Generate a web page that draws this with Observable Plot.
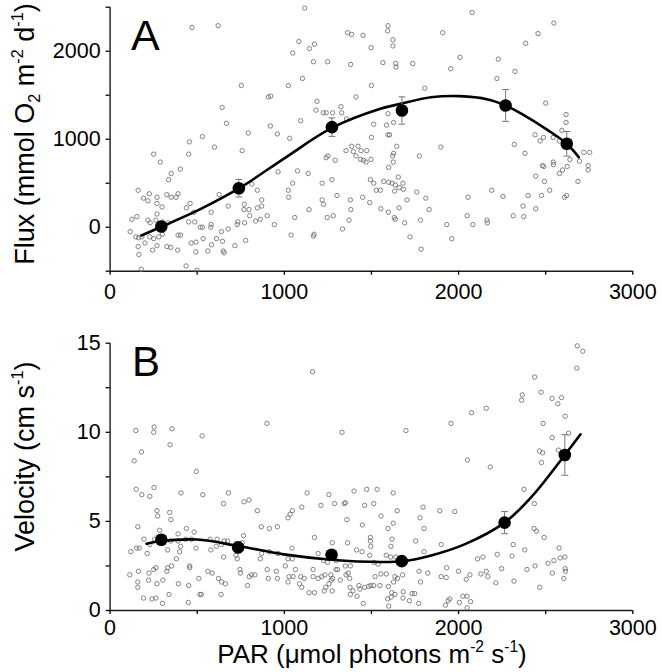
<!DOCTYPE html>
<html>
<head>
<meta charset="utf-8">
<script src="https://cdn.jsdelivr.net/npm/d3@7"></script>
<script src="https://cdn.jsdelivr.net/npm/@observablehq/plot@0.6"></script>
<style>
  html, body { margin: 0; padding: 0; background: white; }
  #chart { width: 662px; }
  #chart svg { display: block; }
  #chart svg g[aria-label$="tick label"] { font-size: 21.5px; }
</style>
</head>
<body>
<div id="chart"></div>
<script>
// ---------- Data ----------
const parDomain = [0, 3000];
const parMajorTicks = [0, 1000, 2000, 3000];
const parMinorTicks = [500, 1500, 2500];

// Panel A: oxygen flux
const fluxDomain = [-500, 2500];
const fluxMajorTicks = [0, 1000, 2000];
const fluxMinorTicks = [-500, 500, 1500, 2500];
const fluxScatter = [
  [1117,2490],[470,2270],[620,2290],[1363,2210],[1386,2190],[1452,2180],[1498,2040],[1083,2110],[1048,1980],[1144,2030],
  [1173,2080],[1167,1880],[1248,1880],[1380,1850],[1104,1690],[753,1610],[1023,1610],[1500,1610],[1411,1480],[908,1480],
  [922,1490],[643,1360],[1187,1430],[668,1180],[920,1150],[1094,1210],[1325,1370],[1181,1330],[1223,1300],[1240,1300],
  [1277,1300],[1329,1300],[1357,1230],[1513,1170],[530,1030],[1031,1010],[793,1070],[960,1060],[1500,1020],[599,910],
  [455,970],[758,870],[250,830],[288,740],[451,830],[1386,920],[1423,920],[1440,870],[1396,860],[1473,870],
  [1411,810],[1438,770],[1453,760],[1469,740],[1498,770],[1292,760],[1250,810],[1240,790],[1354,870],[351,610],
  [336,540],[403,660],[964,630],[1075,640],[1137,610],[1048,500],[1217,500],[1273,540],[1494,540],[1513,500],
  [1528,420],[1551,420],[161,420],[225,380],[192,330],[217,300],[269,340],[269,270],[298,230],[326,370],
  [351,340],[378,340],[390,380],[459,270],[626,370],[678,240],[814,490],[845,420],[870,240],[870,310],
  [1023,420],[1025,340],[1142,200],[1217,310],[1225,260],[1302,360],[1379,310],[1382,200],[1450,340],[1490,280],
  [125,90],[154,120],[217,80],[230,50],[269,150],[263,80],[301,60],[334,50],[438,220],[480,170],
  [580,170],[770,260],[768,200],[797,200],[845,220],[902,130],[862,90],[835,70],[801,130],[772,50],
  [733,60],[730,30],[678,-20],[639,-50],[580,30],[578,0],[518,0],[530,0],[451,60],[486,60],
  [943,30],[1060,110],[1246,110],[1281,130],[1371,80],[1334,-20],[1171,-80],[1167,-100],[115,-50],[148,-110],
  [163,-120],[182,-110],[200,-180],[228,-110],[250,-130],[269,-210],[161,-220],[165,-310],[244,-260],[280,-110],
  [300,-80],[326,-220],[348,-230],[388,-260],[390,-90],[405,-90],[465,-180],[492,-170],[492,-280],[534,-130],
  [561,-270],[582,-200],[611,-130],[645,-160],[649,-270],[655,-290],[716,-210],[778,-150],[1039,-90],[179,-480],
  [436,-440],[499,-490],
  [2078,2440],[1595,2290],[1593,2230],[1623,2130],[1623,2060],[1909,2210],[2547,2320],[2456,2200],[2385,2090],[1566,1870],
  [1639,1860],[1641,1820],[1737,1860],[2009,1930],[1955,1800],[2228,1910],[2324,1770],[2220,1690],[1806,1580],[2500,1410],
  [1595,1290],[1627,1190],[1587,1160],[1595,1050],[1604,1050],[1645,920],[1627,840],[1622,810],[1625,740],[1599,680],
  [1898,910],[1775,810],[2320,940],[2381,840],[2439,1050],[2468,980],[2487,1020],[2543,1020],[2593,1100],[2617,1280],
  [2617,1190],[2579,980],[1654,570],[1570,520],[1599,510],[1618,500],[1637,480],[1660,450],[1683,430],[1681,500],
  [1633,410],[1704,310],[1760,400],[1812,330],[1831,200],[1658,220],[1554,210],[1597,170],[1631,110],[1637,90],
  [1691,50],[1781,80],[1721,-110],[1785,-250],[1932,30],[1961,-130],[2055,340],[2049,130],[2082,30],[2163,80],
  [2165,50],[2190,420],[2255,350],[2314,130],[2374,120],[2370,240],[2399,360],[2443,210],[2443,580],[2476,360],
  [2493,520],[2523,420],[2481,700],[2489,690],[2543,740],[2545,710],[2579,610],[2596,650],[2623,690],[2608,340],
  [2620,360],[2685,520],[2639,770],[2694,750],[2719,850],[2752,850],[2744,700],[2744,650]
];
const fluxMeanPar = [294, 739, 1273, 1675, 2270, 2621];
const fluxMean = [8, 443, 1137, 1326, 1383, 948];
const fluxErr = [50, 100, 105, 155, 180, 140];
const fluxFitPar = [180, 294, 518, 739, 998, 1273, 1551, 1675, 1842, 2006, 2168, 2270, 2360, 2514, 2621, 2690];
const fluxFit = [-95, 5, 205, 440, 780, 1128, 1345, 1405, 1476, 1489, 1452, 1383, 1290, 1100, 948, 795];

// Panel B: velocity
const velDomain = [0, 15];
const velMajorTicks = [0, 5, 10, 15];
const velMinorTicks = [2.5, 7.5, 12.5];
const velScatter = [
  [1162,13.4],[900,10.5],[1331,10.0],[148,10.1],[250,10.0],[253,10.3],[355,10.2],[528,9.8],[138,8.4],[180,8.9],
  [344,9.3],[495,7.8],[150,6.8],[182,6.5],[228,6.4],[252,6.9],[407,6.6],[532,6.5],[651,6.0],[680,6.6],
  [768,6.1],[797,6.2],[845,5.6],[868,4.7],[914,4.6],[960,4.7],[1021,5.2],[1033,5.4],[1046,5.6],[1100,5.8],
  [1131,6.6],[1210,5.9],[1256,6.5],[1288,6.0],[1344,6.0],[1350,6.05],[1359,5.1],[1400,6.7],[1461,5.9],[1448,4.8],
  [1473,6.8],[1532,6.8],[1513,6.0],[1555,5.3],[269,5.6],[273,5.3],[342,5.5],[349,5.1],[159,4.7],[284,4.5],
  [438,4.6],[482,4.4],[390,4.3],[194,4.0],[493,3.5],[434,4.0],[574,4.0],[614,4.0],[655,3.9],[674,3.9],
  [639,3.7],[609,3.6],[578,3.4],[467,4.0],[390,3.9],[766,4.2],[758,3.8],[722,3.1],[730,2.9],[651,3.0],
  [405,3.6],[380,2.9],[399,3.3],[330,3.4],[348,3.9],[255,4.0],[228,3.7],[213,3.2],[167,3.5],[152,3.5],
  [119,3.3],[870,3.2],[862,2.9],[914,3.3],[964,3.2],[1021,2.9],[1046,2.9],[1044,3.5],[1173,4.1],[1194,3.2],
  [1225,2.8],[1248,2.7],[1275,3.8],[1298,2.8],[1306,2.3],[1363,3.8],[1350,2.5],[1379,2.5],[1415,3.4],[1446,3.3],
  [1494,4.1],[1494,3.9],[1496,3.6],[1490,3.1],[1515,2.7],[1538,2.6],[113,2.0],[163,2.2],[159,1.6],[159,1.3],
  [223,2.1],[250,2.3],[263,2.4],[221,1.7],[269,1.5],[303,1.7],[326,2.2],[330,2.4],[353,2.5],[392,1.5],
  [338,0.9],[451,1.4],[457,2.5],[457,2.4],[509,1.8],[524,0.9],[561,2.2],[586,2.1],[622,1.8],[639,1.6],
  [662,1.5],[637,0.9],[745,2.3],[749,2.1],[789,1.4],[799,1.9],[812,2.0],[831,2.0],[902,2.3],[908,1.8],
  [954,2.2],[960,1.8],[1006,2.5],[1021,1.6],[1027,1.9],[1050,1.9],[1064,2.3],[1087,1.5],[1094,1.9],[1100,1.3],
  [1114,1.8],[1142,1.0],[1165,2.3],[1165,1.9],[1173,1.0],[1194,1.8],[1215,1.9],[1233,2.0],[1238,1.3],[1256,1.5],
  [1269,1.7],[1277,1.8],[1267,2.0],[1229,1.1],[1275,1.1],[1296,2.3],[1321,1.7],[1354,2.0],[1367,2.1],[1375,1.8],
  [1377,1.3],[1379,0.9],[1394,1.1],[1417,0.8],[1428,1.4],[1434,1.2],[1453,0.4],[1461,1.3],[1484,1.35],[1496,1.4],
  [1513,1.4],[1521,1.9],[1548,1.4],[192,0.7],[240,0.65],[263,0.7],[301,0.4],[449,0.45],[515,0.9],
  [2681,14.85],[2713,14.55],[2679,13.6],[2437,13.1],[2474,12.25],[2366,12.1],[2362,11.8],[2537,11.9],[2570,11.6],[2591,11.95],
  [2612,10.9],[2485,10.5],[2537,9.7],[2631,9.95],[2159,11.35],[2074,11.1],[1957,10.5],[1698,10.1],[2051,8.45],[2182,8.05],
  [2464,8.95],[2483,8.85],[2476,8.3],[2573,9.0],[2376,6.8],[2435,6.0],[1625,6.6],[1648,5.6],[1796,5.8],[1779,5.2],
  [1892,5.6],[1978,5.55],[1625,4.9],[1595,4.6],[1802,4.6],[1618,4.0],[1612,3.6],[1754,3.9],[1900,3.7],[1802,3.3],
  [2433,4.6],[2447,4.45],[2491,4.1],[2577,3.5],[2314,3.7],[2380,3.4],[2109,2.9],[2140,3.0],[2222,3.15],[2307,3.05],
  [2514,2.65],[2547,2.8],[2583,2.95],[2610,3.0],[2612,2.35],[2614,2.2],[2604,1.8],[2539,2.1],[2393,2.3],[2439,2.5],
  [2247,2.35],[2318,1.65],[2214,1.55],[2128,2.05],[2159,2.2],[2168,1.9],[2065,2.0],[2044,1.75],[2000,2.2],[1931,2.4],
  [1900,1.9],[1929,1.85],[1823,2.1],[1781,1.6],[1773,2.2],[1679,2.0],[1650,1.8],[1635,1.9],[1627,1.6],[1585,2.05],
  [1597,1.35],[1616,1.0],[1612,0.75],[1635,0.9],[1593,0.65],[1599,0.25],[1683,1.05],[1681,0.7],[1718,0.55],[1733,0.95],
  [1748,0.95],[1771,0.4],[1925,0.3],[1940,0.55],[1950,0.65],[2005,0.45],[2025,0.8],[2049,0.8],[2069,0.5],[2049,0.15],
  [2466,1.3],[1554,2.05],[1585,3.1],[1610,3.0],[1640,3.0]
];
const velMeanPar = [294, 735, 1271, 1674, 2264, 2610];
const velMean = [3.97, 3.54, 3.13, 2.77, 4.93, 8.73];
const velErr = [0.25, 0.3, 0.25, 0.2, 0.62, 1.14];
const velFitPar = [209, 294, 499, 735, 998, 1271, 1555, 1674, 1843, 2034, 2264, 2418, 2610, 2700];
const velFit = [3.75, 3.9, 3.98, 3.62, 3.15, 2.85, 2.72, 2.76, 3.09, 3.71, 4.93, 6.37, 8.73, 9.89];

// ---------- Rendering ----------
const FONT = "'Liberation Sans', Arial, Helvetica, sans-serif";
const capSymbol = {
  draw(ctx, size) {
    const r = Math.sqrt(size / Math.PI);
    ctx.moveTo(-r, 0);
    ctx.lineTo(r, 0);
  }
};

function panel(o) {
  const means = o.meanX.map((x, i) => ({x, y: o.meanY[i], lo: o.meanY[i] - o.err[i], hi: o.meanY[i] + o.err[i]}));
  const fit = o.fitX.map((x, i) => ({x, y: o.fitY[i]}));
  const caps = means.flatMap(d => [{x: d.x, y: d.lo}, {x: d.x, y: d.hi}]);
  return Plot.plot({
    width: 662,
    height: o.height,
    marginLeft: 109.6,
    marginRight: 29.7,
    marginTop: o.marginTop,
    marginBottom: o.marginBottom,
    x: {domain: parDomain},
    y: {domain: o.yDomain},
    style: {fontFamily: FONT, fontSize: "21.5px", color: "black", background: "white", overflow: "visible"},
    marks: [
      Plot.ruleY([o.yDomain[0]], {stroke: "#1a1a1a", strokeWidth: 1.4}),
      Plot.ruleX([parDomain[0]], {stroke: "#1a1a1a", strokeWidth: 1.4}),
      Plot.axisX(parMajorTicks, {tickSize: 4, tickPadding: o.xTickPadding, tickFormat: d => String(d), label: null, fontSize: 21.5, strokeWidth: 1.3}),
      Plot.axisX(parMinorTicks, {tickSize: 4, tickFormat: () => "", label: null, strokeWidth: 1.3}),
      Plot.axisY(o.yMajor, {tickSize: 4, tickPadding: 5.5, tickFormat: d => String(d), label: null, fontSize: 21.5, strokeWidth: 1.3}),
      Plot.axisY(o.yMinor, {tickSize: 4, tickFormat: () => "", label: null, strokeWidth: 1.3}),
      Plot.dot(o.scatter, {x: d => d[0], y: d => d[1], r: 2.2, stroke: "#6e6e6e", strokeWidth: 0.85, fill: "none"}),
      Plot.line(fit, {x: "x", y: "y", curve: "catmull-rom", stroke: "black", strokeWidth: 2.6}),
      Plot.ruleX(means, {x: "x", y1: "lo", y2: "hi", stroke: "#777", strokeWidth: 1}),
      Plot.dot(caps, {x: "x", y: "y", symbol: capSymbol, r: 3.5, stroke: "#777", strokeWidth: 1, fill: "none"}),
      Plot.dot(means, {x: "x", y: "y", r: 6.3, fill: "black", stroke: "none"})
    ]
  });
}

function addRichText(svg, x, y, rotate, parts, size, anchor = "middle") {
  const t = d3.select(svg).append("text")
    .attr("transform", `translate(${x},${y}) rotate(${rotate})`)
    .attr("text-anchor", anchor)
    .attr("font-family", FONT)
    .attr("font-size", size)
    .attr("fill", "black");
  let shift = 0;
  for (const [s, kind] of parts) {
    const ts = t.append("tspan").text(s);
    let target = 0;
    if (kind === "sup") target = -size * 0.42;
    if (kind === "sub") target = size * 0.22;
    if (kind) ts.attr("font-size", size * 0.6);
    ts.attr("dy", target - shift);
    shift = target;
  }
  return t;
}

const chart = document.getElementById("chart");

const plotA = panel({
  height: 320, marginTop: 6.7, marginBottom: 49.3,
  yDomain: fluxDomain, yMajor: fluxMajorTicks, yMinor: fluxMinorTicks,
  scatter: fluxScatter, meanX: fluxMeanPar, meanY: fluxMean, err: fluxErr,
  fitX: fluxFitPar, fitY: fluxFit, xTickPadding: 8.3
});
chart.appendChild(plotA);
addRichText(plotA, 34, 134, -90, [["Flux (mmol O"], ["2", "sub"], [" m"], ["-2", "sup"], [" d"], ["-1", "sup"], [")"]], 27);
addRichText(plotA, 131, 50, 0, [["A"]], 43, "start");

const plotB = panel({
  height: 352, marginTop: 22.7, marginBottom: 62,
  yDomain: velDomain, yMajor: velMajorTicks, yMinor: velMinorTicks,
  scatter: velScatter, meanX: velMeanPar, meanY: velMean, err: velErr,
  fitX: velFitPar, fitY: velFit, xTickPadding: 5
});
chart.appendChild(plotB);
addRichText(plotB, 34, 136.5, -90, [["Velocity (cm s"], ["-1", "sup"], [")"]], 27);
addRichText(plotB, 372, 343, 0, [["PAR (\u03bcmol photons m"], ["-2", "sup"], [" s"], ["-1", "sup"], [")"]], 26);
addRichText(plotB, 132, 56, 0, [["B"]], 42, "start");
</script>
</body>
</html>
